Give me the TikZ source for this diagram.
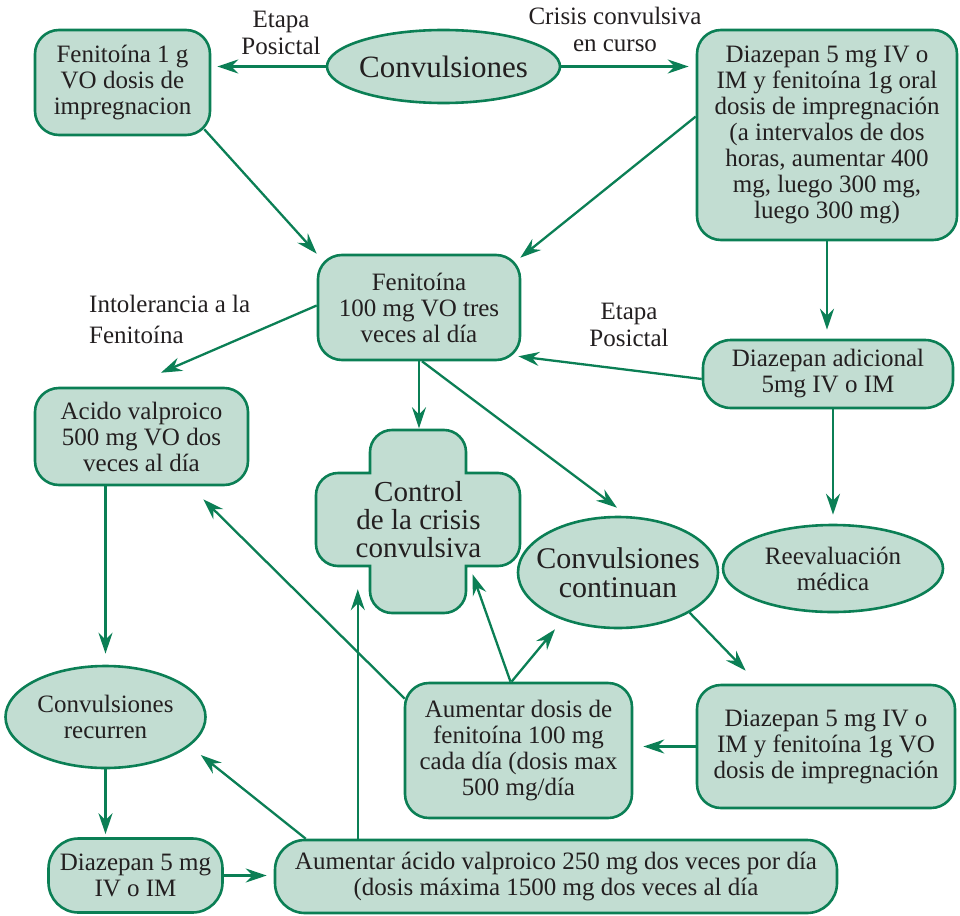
\documentclass[tikz,border=0pt]{standalone}
\usepackage{fontspec}
\setmainfont{Liberation Serif}
\usetikzlibrary{arrows.meta,calc,shapes.geometric}
\definecolor{boxfill}{HTML}{C2DDD2}
\definecolor{boxline}{HTML}{0B7F55}
\definecolor{ink}{HTML}{231F20}

\tikzset{
  outline/.style={draw=boxline, fill=boxfill, line width=2.6pt},
  base/.style={outline, text=ink, align=center, inner sep=0pt,
    font=\fontsize{25}{26}\selectfont},
  box/.style={base, rectangle, rounded corners=24pt},
  oval/.style={outline, ellipse, inner sep=0pt},
  txt/.style={text=ink, align=center, inner sep=0pt,
    font=\fontsize{25}{26}\selectfont},
  lbl/.style={txt, font=\fontsize{25}{27}\selectfont},
  arr/.style={draw=boxline, line width=2.3pt,
    -{Stealth[length=21pt,width=14pt,inset=7pt]}},
}

\begin{document}
\begin{tikzpicture}[x=1pt,y=-1pt]
\useasboundingbox (0,0) rectangle (960,915);

% ---- top row
\node[box, minimum width=175pt, minimum height=105pt] (fen1g) at (122.5,82.5)
  {Fenitoína 1 g\\VO dosis de\\impregnacion};
\node[oval, minimum width=233pt, minimum height=73pt] (conv) at (443.5,66.5) {};
\node[txt, font=\fontsize{31}{32}\selectfont] (conv-t) at (conv.center) {Convulsiones};
\node[box, minimum width=260pt, minimum height=210pt] (diazA) at (827,135)
  {Diazepan 5 mg IV o\\IM y fenitoína 1g oral\\dosis de impregnación\\(a intervalos de dos\\horas, aumentar 400\\mg, luego 300 mg,\\luego 300 mg)};

% ---- second row
\node[box, minimum width=202pt, minimum height=105pt] (fen100) at (419,307.5)
  {Fenitoína\\100 mg VO tres\\veces al día};
\node[box, rounded corners=28pt, minimum width=250pt, minimum height=68pt] (diazAd) at (828,374)
  {Diazepan adicional\\5mg IV o IM};
\node[box, minimum width=213pt, minimum height=97pt] (acido) at (141.5,436.5)
  {Acido valproico\\500 mg VO dos\\veces al día};

% ---- cross-shaped node
\draw[outline] (392,430) -- (444,430)
  .. controls (456,430) and (466,440) .. (466,452) -- (466,473) -- (498,473)
  .. controls (510,473) and (520,483) .. (520,495) -- (520,544)
  .. controls (520,556) and (510,566) .. (498,566) -- (466,566) -- (466,591)
  .. controls (466,603) and (456,613) .. (444,613) -- (392,613)
  .. controls (380,613) and (370,603) .. (370,591) -- (370,566) -- (338,566)
  .. controls (326,566) and (316,556) .. (316,544) -- (316,495)
  .. controls (316,483) and (326,473) .. (338,473) -- (370,473) -- (370,452)
  .. controls (370,440) and (380,430) .. (392,430) -- cycle;
\node[txt, minimum width=205pt, minimum height=183pt, font=\fontsize{29}{28}\selectfont]
  (ctrl) at (418.5,520) {Control\\de la crisis\\convulsiva};

% ---- ellipses in the middle
\node[oval, minimum width=200pt, minimum height=111pt] (convCont) at (618,572.5) {};
\node[txt, font=\fontsize{30}{29.5}\selectfont] (convCont-t) at (convCont.center) {Convulsiones\\continuan};
\node[oval, minimum width=220pt, minimum height=87pt] (reeval) at (833,568.5) {};
\node[txt] (reeval-t) at (reeval.center) {Reevaluación\\médica};
\node[oval, minimum width=200pt, minimum height=102pt] (convRec) at (105.5,717) {};
\node[txt] (convRec-t) at (convRec.center) {Convulsiones\\recurren};

% ---- lower boxes
\node[box, minimum width=227pt, minimum height=135pt] (aumFen) at (518.5,750.5)
  {Aumentar dosis de\\fenitoína 100 mg\\cada día (dosis max\\500 mg/día};
\node[box, minimum width=258pt, minimum height=123pt] (diazB) at (826,746.5)
  {Diazepan 5 mg IV o\\IM y fenitoína 1g VO\\dosis de impregnación};
\node[box, rounded corners=30pt, minimum width=174pt, minimum height=74pt] (diaz5) at (135.5,875.5)
  {Diazepan 5 mg\\IV o IM};
\node[box, rounded corners=30pt, minimum width=562pt, minimum height=73pt] (aumAc) at (556,876.5)
  {Aumentar ácido valproico 250 mg dos veces por día\\(dosis máxima 1500 mg dos veces al día};

% ---- free labels
\node[lbl] (lblA) at (281,33) {Etapa\\Posictal};
\node[lbl] (lblB) at (615,29) {Crisis convulsiva\\en curso};
\node[lbl, align=left, anchor=west, font=\fontsize{25}{31}\selectfont] (lblC) at (89,319)
  {Intolerancia a la\\Fenitoína};
\node[lbl] (lblD) at (629,325) {Etapa\\Posictal};

% ---- connectors
\draw[arr, shorten >=6pt] (conv.west) -- (conv.west -| fen1g.east);
\draw[arr, shorten >=7pt] (conv.east) -- (conv.east -| diazA.west);
\draw[arr] ($(fen1g.south east)+(-7,-7)$) -- (fen100.north west);
\draw[arr] (diazA.172) -- ($(fen100.north east)+(-1,4)$);
\draw[arr, shorten >=9pt] (diazA.south) -- (diazA.south |- diazAd.north);
\draw[arr] ($(diazAd.west)+(0,5)$) -- ($(fen100.south east)+(-3,-5)$);
\draw[arr, shorten >=9pt] (reeval.north |- diazAd.south) -- (reeval.north);
\draw[arr] ($(fen100.west)+(0,-2)$) -- ($(acido.north)+(19.5,-14)$);
\draw[arr] (fen100.south) -- (fen100.south |- ctrl.north);
\draw[arr] ($(fen100.south)+(3,0)$) -- ($(convCont.north)+(-1,-8)$);
\draw[arr, shorten >=11pt] (convRec.north |- acido.south) -- (convRec.north);
\draw[arr, shorten >=3pt] (convRec.south) -- (convRec.south |- diaz5.north);
\draw[arr, shorten >=7pt] (diaz5.east) -- (diaz5.east -| aumAc.west);
\draw[arr] ($(aumAc.north west)+(32,0)$) -- ($(convRec.east)+(-6,38)$);
\coordinate (oTip) at ($(ctrl.south west)+(42,-22.5)$);
\draw[arr] (oTip |- aumAc.north) -- (oTip);
\draw[arr] ($(aumFen.north west)+(1,17)$) -- ($(acido.south east)+(-46,13)$);
\draw[arr] ($(aumFen.north)+(-8,0)$) -- ($(ctrl.south)+(54,-37.5)$);
\draw[arr] ($(aumFen.north)+(-7,0)$) -- ($(convCont.south)+(-63,0)$);
\draw[arr] (convCont.south east) -- ($(diazB.north west)+(50,-13)$);
\draw[arr, shorten >=10pt] (diazB.west) -- (diazB.west -| aumFen.east);
\end{tikzpicture}
\end{document}
